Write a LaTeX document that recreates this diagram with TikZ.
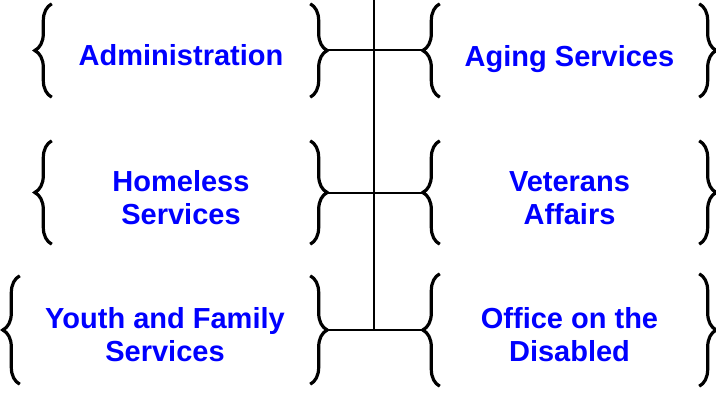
\documentclass[tikz,border=0pt]{standalone}
\usepackage{fontspec}
\setmainfont{Liberation Sans}
\usepackage{xcolor}
\usetikzlibrary{decorations.pathreplacing}

\definecolor{deptblue}{RGB}{0,0,255}

\tikzset{
    dept/.style={inner sep=0pt, align=center, text=deptblue,
        font=\fontsize{29}{33}\selectfont\bfseries,
        execute at begin node={\rule{0pt}{#1}}},
    dept/.default=31pt,
    bracket/.style={decorate, decoration={brace, amplitude=17pt},
        line width=3.2pt},
    link/.style={line width=2pt}
}

\begin{document}
\begin{tikzpicture}[x=1pt,y=1pt]
    \useasboundingbox (0,0) rectangle (716,392);

    % Left column
    \node[dept, minimum width=258, minimum height=93] (adm) at (181,341.5)
        {Administration};
    \node[dept=64pt, minimum width=258, minimum height=103] (homeless)
        at (181,199.5) {Homeless\\Services};
    \node[dept=64pt, minimum width=290, minimum height=108] (youth) at (165,62)
        {Youth and Family\\Services};

    % Right column
    \node[dept, minimum width=259, minimum height=93, text depth=0pt] (aging)
        at (569.5,341.5) {Aging Services};
    \node[dept=64pt, minimum width=259, minimum height=103] (veterans)
        at (569.5,199.5) {Veterans\\Affairs};
    \node[dept=64pt, minimum width=259, minimum height=112] (disabled)
        at (569.5,62) {Office on the\\Disabled};

    % Braces
    \foreach \n in {adm,homeless,youth,aging,veterans,disabled} {
        \draw[bracket] (\n.south west) -- (\n.north west);
        \draw[bracket] (\n.north east) -- (\n.south east);
    }

    % Trunk
    \coordinate (trunk) at (374,392);
    \draw[link] (trunk) -- (trunk |- youth.east);

    % Rungs
    \draw[link, shorten <=17pt, shorten >=17pt] (adm.east) -- (aging.west);
    \draw[link, shorten <=17pt, shorten >=17pt] (homeless.east) -- (veterans.west);
    \draw[link, shorten <=17pt, shorten >=17pt] (youth.east) -- (disabled.west);
\end{tikzpicture}
\end{document}
